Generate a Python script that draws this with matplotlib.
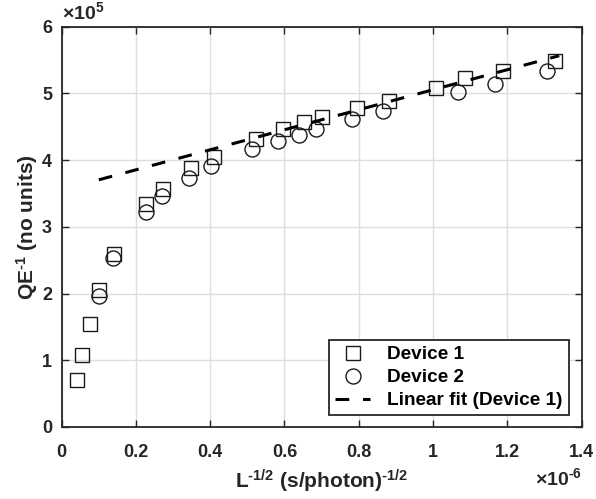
import matplotlib
matplotlib.use("Agg")
import matplotlib.pyplot as plt
import numpy as np

# Data (x in units of 1e-6 (s/photon)^-1/2, y in units of 1e5)
dev1_x = [0.040, 0.056, 0.076, 0.100, 0.141, 0.227, 0.272, 0.348, 0.411, 0.523,
          0.595, 0.652, 0.700, 0.796, 0.882, 1.009, 1.086, 1.189, 1.328]
dev1_y = [0.70, 1.08, 1.54, 2.05, 2.60, 3.34, 3.56, 3.88, 4.05, 4.32,
          4.46, 4.57, 4.64, 4.78, 4.89, 5.08, 5.23, 5.33, 5.48]
dev2_x = [0.100, 0.139, 0.226, 0.269, 0.343, 0.402, 0.513, 0.583, 0.640, 0.685,
          0.781, 0.866, 1.068, 1.166, 1.308]
dev2_y = [1.97, 2.53, 3.22, 3.46, 3.73, 3.91, 4.16, 4.29, 4.38, 4.46,
          4.61, 4.73, 5.02, 5.14, 5.33]
fit_x = [0.10, 1.34]
fit_slope = 1.50
fit_intercept = 3.555

xticks = [0, 0.2, 0.4, 0.6, 0.8, 1.0, 1.2, 1.4]
xticklabels = ["0", "0.2", "0.4", "0.6", "0.8", "1", "1.2", "1.4"]
yticks = [0, 1, 2, 3, 4, 5, 6]
yticklabels = ["0", "1", "2", "3", "4", "5", "6"]

plt.rcParams['font.family'] = ['Liberation Sans', 'DejaVu Sans']
plt.rcParams['font.weight'] = 'bold'
plt.rcParams['mathtext.fontset'] = 'custom'
plt.rcParams['mathtext.rm'] = 'Liberation Sans:bold'
plt.rcParams['mathtext.it'] = 'Liberation Sans:bold'
plt.rcParams['mathtext.bf'] = 'Liberation Sans:bold'
plt.rcParams['mathtext.default'] = 'rm'

tc = '#262626'
hy = '\u2010'
fig = plt.figure(figsize=(5.96, 4.99), dpi=100)
ax = fig.add_axes([0.1035, 0.1443, 0.9757 - 0.1035, 0.9465 - 0.1443])

fx = np.array(fit_x)
fy = fit_intercept + fit_slope * fx

ax.plot(dev1_x, dev1_y, linestyle='none', marker='s', markersize=9.5,
        markerfacecolor='none', markeredgecolor='#1a1a1a', markeredgewidth=1.0,
        label='Device 1', zorder=3)
ax.plot(dev2_x, dev2_y, linestyle='none', marker='o', markersize=10.8,
        markerfacecolor='none', markeredgecolor='#1a1a1a', markeredgewidth=1.0,
        label='Device 2', zorder=3)
ax.plot(fx, fy, linestyle=(0, (4.5, 4.5)), color='black', linewidth=2.2,
        label='Linear fit (Device 1)', zorder=4)

ax.set_xlim(0, 1.4)
ax.set_ylim(0, 6)
ax.set_xticks(xticks)
ax.set_xticklabels(xticklabels)
ax.set_yticks(yticks)
ax.set_yticklabels(yticklabels)
ax.grid(True, color='#dedede', linewidth=1.0)
ax.set_axisbelow(True)
ax.tick_params(direction='in', length=5, width=1.0, colors=tc, labelsize=13,
               top=True, right=True, labelcolor=tc)
for lab in ax.get_xticklabels() + ax.get_yticklabels():
    lab.set_fontweight('bold')
ax.tick_params(axis='x', pad=12)
ax.tick_params(axis='y', pad=7)
for s in ax.spines.values():
    s.set_color(tc)
    s.set_linewidth(1.3)

ax.set_xlabel('L$^{' + hy + '1/2}$ (s/photon)$^{' + hy + '1/2}$', fontsize=15,
              fontweight='bold', color=tc, labelpad=5)
ax.set_ylabel('QE$^{' + hy + '1}$ (no units)', fontsize=15, fontweight='bold',
              color=tc, labelpad=1)

ax.text(0.0, 1.008, r'$\times$10$^{5}$', transform=ax.transAxes, fontsize=14,
        color=tc, ha='left', va='bottom')
ax.text(1.0, -0.1, r'$\times$10$^{' + hy + '6}$', transform=ax.transAxes, fontsize=14,
        color=tc, ha='right', va='top')

leg = ax.legend(loc='lower right', bbox_to_anchor=(0.975, 0.03), fontsize=13.7,
                frameon=True, fancybox=False, edgecolor=tc, framealpha=1,
                handlelength=1.85, borderpad=0.3, labelspacing=0.3,
                handletextpad=0.9, borderaxespad=0)
leg.get_frame().set_linewidth(1.3)
for t in leg.get_texts():
    t.set_fontweight('bold')
    t.set_color('black')

fig.savefig('out.png', dpi=100)
